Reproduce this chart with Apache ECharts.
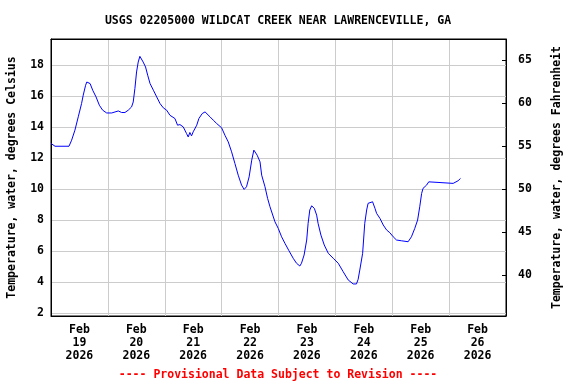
<!DOCTYPE html>
<html>
<head>
<meta charset="utf-8">
<script src="https://cdn.jsdelivr.net/npm/echarts@6/dist/echarts.min.js"></script>
<style>html,body{margin:0;padding:0;background:#fff}#c{width:576px;height:384px}</style>
</head>
<body>
<div id="c"></div>
<script>
const titleText = 'USGS 02205000 WILDCAT CREEK NEAR LAWRENCEVILLE, GA';
const footerText = '---- Provisional Data Subject to Revision ----';
const yNameC = 'Temperature, water, degrees Celsius';
const yNameF = 'Temperature, water, degrees Fahrenheit';
const dayLabels = ['Feb\n19\n2026','Feb\n20\n2026','Feb\n21\n2026','Feb\n22\n2026','Feb\n23\n2026','Feb\n24\n2026','Feb\n25\n2026','Feb\n26\n2026'];
// hours since Feb 19 2026 00:00
const hours = [0,1.7,7.6,8.7,10.1,11.5,12.9,13.6,14.6,15.1,15.7,16.5,17.6,19.0,20.4,21.8,23.5,25.6,28.4,29.8,31.2,32.6,34.0,34.7,35.4,36.1,36.8,37.5,38.3,38.9,39.9,40.8,41.8,43.2,44.6,46.0,47.4,48.8,50.2,52.3,53.4,54.4,55.8,57.2,57.9,58.6,59.3,60.0,61.5,62.4,63.8,65.0,65.7,67.1,68.5,69.9,72.0,73.4,74.8,76.2,77.6,79.0,80.4,81.5,82.5,83.6,84.7,85.6,86.0,87.0,88.2,88.9,90.3,91.4,92.4,94.5,95.9,97.3,98.7,100.4,102.2,103.6,105.0,105.7,106.8,107.9,108.5,109.2,110.0,111.1,112.1,112.7,113.9,115.3,117.0,119.1,121.2,123.3,125.4,127.5,128.9,129.6,130.3,131.5,132.4,133.2,133.8,134.6,135.7,136.7,137.4,138.8,140.2,141.6,143.0,144.4,145.8,147.9,150.7,152.1,153.5,154.7,155.6,156.4,157.0,158.5,159.4,160.2,169.7,170.4,171.8,172.8];
const tempC = [12.95,12.77,12.77,13.16,13.81,14.67,15.53,16.07,16.71,16.92,17.03,16.82,16.39,15.96,15.42,15.10,14.92,14.92,15.05,14.95,14.95,15.10,15.31,15.63,16.50,17.57,18.21,18.58,18.47,18.21,17.89,17.36,16.82,16.39,15.96,15.53,15.25,15.10,14.77,14.56,14.13,14.17,14.02,13.59,13.37,13.66,13.44,13.70,14.13,14.56,14.88,14.99,14.95,14.67,14.45,14.24,13.96,13.48,13.05,12.41,11.66,10.90,10.26,9.98,10.15,10.79,11.87,12.52,12.56,12.19,11.76,10.90,10.15,9.40,8.86,7.89,7.46,6.92,6.50,6.02,5.53,5.21,5.03,5.21,5.74,6.71,7.79,8.65,8.92,8.76,8.32,7.79,7.03,6.39,5.85,5.53,5.21,4.66,4.13,3.87,3.87,4.17,4.77,5.85,7.79,8.65,9.08,9.18,9.18,8.76,8.43,8.11,7.68,7.36,7.18,6.92,6.71,6.66,6.60,6.92,7.46,8.00,8.86,9.72,10.05,10.26,10.47,10.37,10.37,10.47,10.54,10.69];
const cMin = 1.8, cMax = 19.7;
const fMin = cMin * 1.8 + 32, fMax = cMax * 1.8 + 32;

const FONT = 'DejaVu Sans Mono';
const txt = {fontFamily: FONT, fontWeight: 'bold', fontSize: 11.5, color: '#000'};
const chart = echarts.init(document.getElementById('c'), null, {renderer: 'canvas'});
const data = hours.map((h, i) => [h, tempC[i]]);
const blackLine = {show: true, onZero: false, lineStyle: {color: '#000', width: 1}};
chart.setOption({
  animation: false,
  backgroundColor: '#fff',
  grid: {left: 51, right: 70, top: 39, bottom: 68, show: true, borderColor: '#000', borderWidth: 1, backgroundColor: 'transparent', containLabel: false, outerBoundsMode: 'none'},
  graphic: [
    {type: 'text', x: 278, y: 21, style: {text: titleText, fontFamily: FONT, fontWeight: 'bold', fontSize: 11.5, fill: '#000', textAlign: 'center', textVerticalAlign: 'middle'}},
    {type: 'text', x: 278, y: 375, style: {text: footerText, fontFamily: FONT, fontWeight: 'bold', fontSize: 11.5, fill: '#ff0000', textAlign: 'center', textVerticalAlign: 'middle'}}
  ],
  xAxis: [
    {type: 'value', min: 0, max: 192, interval: 24, position: 'bottom',
     axisLine: blackLine, axisTick: {show: false}, axisLabel: {show: false},
     splitLine: {show: true, lineStyle: {color: '#cccccc', width: 1}}},
    {type: 'category', data: dayLabels, position: 'bottom', boundaryGap: true,
     axisLine: {show: false, onZero: false}, axisTick: {show: false}, splitLine: {show: false},
     axisLabel: Object.assign({interval: 0, margin: 8, lineHeight: 13}, txt)},
    {type: 'value', min: 0, max: 192, position: 'top',
     axisLine: blackLine, axisTick: {show: false}, axisLabel: {show: false}, splitLine: {show: false}}
  ],
  yAxis: [
    {type: 'value', min: cMin, max: cMax, splitNumber: 9, position: 'left',
     name: yNameC, nameLocation: 'middle', nameGap: 33, nameRotate: 90, nameTextStyle: txt,
     axisLine: blackLine, axisTick: {show: false},
     axisLabel: Object.assign({margin: 7, formatter: v => (Math.abs(v - Math.round(v)) < 1e-6 && Math.round(v) % 2 === 0) ? String(Math.round(v)) : ''}, txt),
     splitLine: {show: true, lineStyle: {color: '#cccccc', width: 1}}},
    {type: 'value', min: fMin, max: fMax, splitNumber: 6, position: 'right',
     name: yNameF, nameLocation: 'middle', nameGap: 45, nameRotate: 90, nameTextStyle: txt,
     axisLine: blackLine,
     axisTick: {show: true, inside: true, length: 4, lineStyle: {color: '#000'}},
     axisLabel: Object.assign({margin: 12, formatter: v => (Math.abs(v - Math.round(v)) < 1e-6 && Math.round(v) % 5 === 0) ? String(Math.round(v)) : ''}, txt),
     splitLine: {show: false}}
  ],
  series: [{
    type: 'line', xAxisIndex: 0, yAxisIndex: 0, data: data, showSymbol: false, symbol: 'none',
    lineStyle: {color: '#0000ff', width: 1}, itemStyle: {color: '#0000ff'}
  }]
});
</script>
</body>
</html>
